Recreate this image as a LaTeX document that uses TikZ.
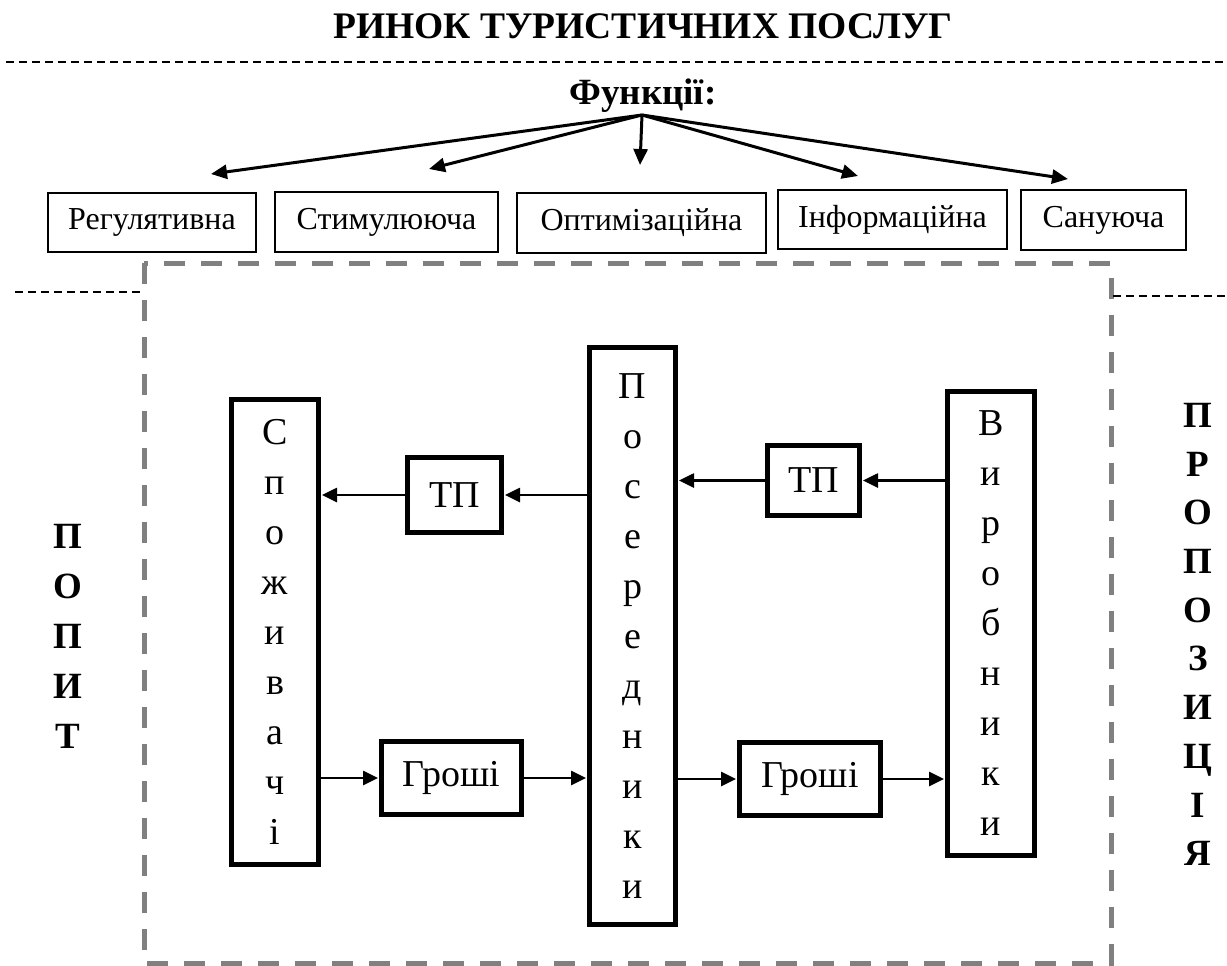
\documentclass[tikz,border=0pt]{standalone}
\usepackage{fontspec}
\setmainfont{Liberation Serif}
\usetikzlibrary{arrows.meta,calc}
\begin{document}
\begin{tikzpicture}[x=1pt,y=-1pt,
  fbox/.style={draw,line width=2pt,inner sep=0pt,font=\fontsize{32}{38}\selectfont},
  bbox/.style={draw,line width=5pt,inner sep=0pt,align=center,font=\fontsize{38}{50}\selectfont},
  sidetxt/.style={inner sep=0pt,align=center,anchor=north,font=\bfseries\fontsize{37}{50}\selectfont},
  farr/.style={line width=3pt,-{Triangle[length=16pt,width=14pt]}},
  arr/.style={line width=2.6pt,-{Triangle[length=15pt,width=14pt]},shorten >=1pt},
  graydash/.style={draw=black!50,line width=5pt,dash pattern=on 21pt off 16pt},
  blackdash/.style={line width=1.5pt,dash pattern=on 8pt off 5pt}]
\useasboundingbox (0,0) rectangle (1227,966);
% title
\node[anchor=base,inner sep=0pt,font=\bfseries\fontsize{37.5}{44}\selectfont] (title) at (643,39) {РИНОК ТУРИСТИЧНИХ ПОСЛУГ};
\coordinate (tl) at (6,62);
\coordinate (tr) at (1227,62);
\draw[blackdash] (tl) -- (tr);
\node[anchor=base,inner sep=0pt,font=\bfseries\fontsize{37}{44}\selectfont] (func) at (643,104) {Функції:};
% function boxes
\node[fbox,minimum width=208,minimum height=59] (f1) at (152,222.5) {Регулятивна};
\node[fbox,minimum width=223,minimum height=60] (f2) at (386.5,222) {Стимулююча};
\node[fbox,minimum width=249,minimum height=60] (f3) at (641.5,223) {Оптимізаційна};
\node[fbox,minimum width=229,minimum height=59] (f4) at (892.5,219.5) {Інформаційна};
\node[fbox,minimum width=165,minimum height=60] (f5) at (1103.5,220) {Сануюча};
\coordinate (fo) at (642,115);
\coordinate (e1) at (211,174);
\coordinate (e2) at (429,169);
\coordinate (e3) at (640,165);
\coordinate (e4) at (858,176);
\coordinate (e5) at (1068,179);
\foreach \e in {e1,e2,e3,e4,e5} \draw[farr] (fo) -- (\e);
% gray dashed frame
\draw[graydash] (144,263) rectangle (1111,963);
\coordinate (ll) at (15,292);
\coordinate (lr) at (142,292);
\coordinate (rl) at (1113,296);
\coordinate (rr) at (1227,296);
\draw[blackdash] (ll) -- (lr);
\draw[blackdash] (rl) -- (rr);
% side texts
\node[sidetxt] (popyt) at (68,524) {П\\О\\П\\И\\Т};
\node[sidetxt,font=\bfseries\fontsize{37}{48.7}\selectfont] (prop) at (1198,403) {П\\Р\\О\\П\\О\\З\\И\\Ц\\І\\Я};
% inner boxes
\node[bbox,minimum width=87,minimum height=465] (spoz) at (275,632) {С\\п\\о\\ж\\и\\в\\а\\ч\\і};
\node[bbox,minimum width=86,minimum height=577] (pos) at (632.5,636) {П\\о\\с\\е\\р\\е\\д\\н\\и\\к\\и};
\node[bbox,minimum width=87,minimum height=464] (vyr) at (991,623.5) {В\\и\\р\\о\\б\\н\\и\\к\\и};
\node[bbox,minimum width=94,minimum height=75] (tpL) at (454.5,495) {ТП};
\node[bbox,minimum width=92,minimum height=70] (tpR) at (813.5,480.5) {ТП};
\node[bbox,minimum width=140,minimum height=73] (grL) at (451.5,778) {Гроші};
\node[bbox,minimum width=141,minimum height=73] (grR) at (810,779) {Гроші};
% arrows
\draw[arr] (pos.west |- tpL.east) -- (tpL.east);
\draw[arr] (tpL.west) -- (spoz.east |- tpL.west);
\draw[arr] (vyr.west |- tpR.east) -- (tpR.east);
\draw[arr] (tpR.west) -- (pos.east |- tpR.west);
\draw[arr] (spoz.east |- grL.west) -- (grL.west);
\draw[arr] (grL.east) -- (pos.west |- grL.east);
\draw[arr] (pos.east |- grR.west) -- (grR.west);
\draw[arr] (grR.east) -- (vyr.west |- grR.east);
\end{tikzpicture}
\end{document}
